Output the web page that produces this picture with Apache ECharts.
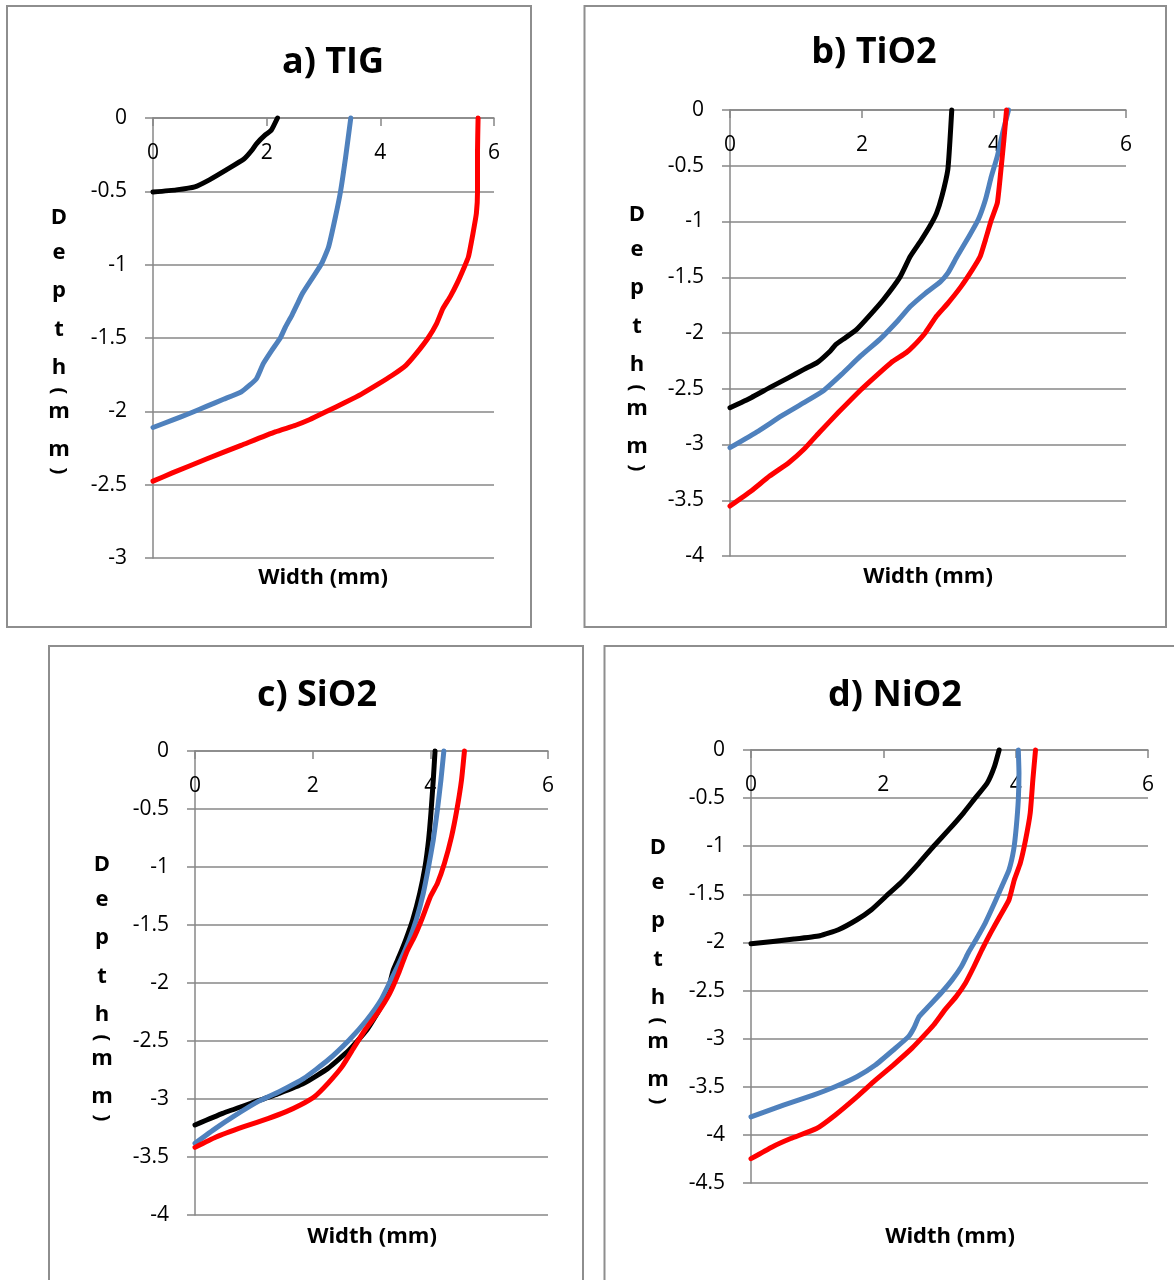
<!DOCTYPE html>
<html>
<head>
<meta charset="utf-8">
<title>Weld bead depth profiles</title>
<script src="https://cdn.jsdelivr.net/npm/echarts@6/dist/echarts.min.js"></script>
<style>
  html, body { margin: 0; padding: 0; background: #ffffff; }
  #chart { width: 1174px; height: 1280px; }
</style>
</head>
<body>
<div id="chart"></div>
<script>
// Panel titles and depth-axis lower limits
const panelTitles = ['a) TIG', 'b) TiO2', 'c) SiO2', 'd) NiO2'];
const depthMin = [-3, -4, -4, -4.5];
const widthMax = 6;
const axisTitleX = 'Width (mm)';
const depthLetters = ['D', 'e', 'p', 't', 'h', '(', 'm', 'm', ')'];

// Profiles as [width (mm), depth (mm)]
const tigBlack = [[2.19,0],[2.08,-0.084],[1.98,-0.114],[1.82,-0.176],[1.74,-0.22],[1.6,-0.28],[1.29,-0.354],[1.0,-0.42],[0.735,-0.47],[0.41,-0.49],[0,-0.505]];
const tigBlue = [[3.48,0],[3.39,-0.265],[3.3,-0.5],[3.21,-0.674],[3.09,-0.878],[2.97,-0.99],[2.63,-1.196],[2.55,-1.26],[2.45,-1.34],[2.33,-1.425],[2.24,-1.5],[2.09,-1.584],[1.94,-1.675],[1.82,-1.778],[1.7,-1.822],[1.55,-1.868],[1.24,-1.918],[0.94,-1.966],[0.64,-2.015],[0.34,-2.06],[0,-2.11]];
const tigRed = [[5.72,0],[5.71,-0.22],[5.71,-0.5],[5.69,-0.65],[5.63,-0.787],[5.55,-0.946],[5.48,-1.014],[5.35,-1.128],[5.23,-1.218],[5.1,-1.3],[4.99,-1.402],[4.84,-1.5],[4.63,-1.607],[4.45,-1.686],[4.21,-1.754],[3.96,-1.815],[3.66,-1.884],[3.36,-1.943],[3.06,-2.0],[2.76,-2.056],[2.51,-2.095],[2.15,-2.14],[1.55,-2.232],[0.94,-2.325],[0.34,-2.42],[0,-2.476]];

const tio2Black = [[3.36,0],[3.33,-0.3],[3.3,-0.536],[3.21,-0.775],[3.13,-0.925],[3.04,-1.03],[2.9,-1.165],[2.73,-1.314],[2.58,-1.494],[2.32,-1.704],[2.1,-1.853],[1.92,-1.967],[1.75,-2.042],[1.61,-2.1],[1.52,-2.161],[1.32,-2.266],[1.12,-2.326],[0.89,-2.4],[0.6,-2.49],[0.32,-2.58],[0,-2.67]];
const tio2Blue = [[4.22,0],[4.13,-0.207],[4.05,-0.416],[3.96,-0.596],[3.87,-0.805],[3.76,-0.985],[3.62,-1.135],[3.44,-1.314],[3.3,-1.464],[3.19,-1.539],[2.96,-1.644],[2.73,-1.763],[2.55,-1.885],[2.27,-2.057],[1.98,-2.206],[1.69,-2.371],[1.41,-2.52],[1.12,-2.625],[0.78,-2.744],[0.43,-2.879],[0,-3.028]];
const tio2Red = [[4.19,0],[4.15,-0.266],[4.1,-0.566],[4.05,-0.835],[3.96,-0.985],[3.87,-1.165],[3.79,-1.314],[3.67,-1.434],[3.5,-1.584],[3.3,-1.734],[3.13,-1.848],[2.96,-1.997],[2.78,-2.117],[2.67,-2.176],[2.44,-2.266],[2.21,-2.386],[1.98,-2.511],[1.64,-2.714],[1.35,-2.894],[1.12,-3.043],[0.89,-3.163],[0.6,-3.283],[0.32,-3.417],[0,-3.552]];

const sio2Black = [[4.08,0],[4.05,-0.25],[4.01,-0.537],[3.97,-0.767],[3.91,-0.997],[3.82,-1.227],[3.7,-1.457],[3.58,-1.63],[3.47,-1.77],[3.37,-1.888],[3.28,-2.06],[3.13,-2.233],[2.92,-2.405],[2.62,-2.578],[2.26,-2.736],[1.85,-2.865],[1.43,-2.951],[0.95,-3.037],[0.47,-3.124],[0,-3.224]];
const sio2Blue = [[4.23,0],[4.18,-0.25],[4.12,-0.509],[4.05,-0.767],[3.97,-0.997],[3.88,-1.227],[3.76,-1.457],[3.64,-1.63],[3.48,-1.82],[3.33,-1.974],[3.16,-2.147],[2.92,-2.319],[2.62,-2.491],[2.26,-2.664],[1.85,-2.822],[1.43,-2.937],[1.07,-3.023],[0.65,-3.152],[0.35,-3.253],[0,-3.382]];
const sio2Red = [[4.58,0],[4.53,-0.25],[4.45,-0.509],[4.36,-0.739],[4.24,-0.968],[4.12,-1.141],[4.0,-1.256],[3.85,-1.457],[3.73,-1.601],[3.6,-1.73],[3.46,-1.917],[3.31,-2.089],[3.1,-2.262],[2.89,-2.405],[2.71,-2.549],[2.5,-2.721],[2.26,-2.865],[2.03,-2.98],[1.79,-3.052],[1.55,-3.109],[1.25,-3.167],[0.83,-3.239],[0.35,-3.33],[0,-3.417]];

const nio2Black = [[3.75,0],[3.68,-0.17],[3.57,-0.343],[3.37,-0.516],[3.21,-0.655],[2.99,-0.828],[2.76,-1.0],[2.54,-1.175],[2.26,-1.383],[2.04,-1.52],[1.82,-1.66],[1.6,-1.764],[1.32,-1.868],[1.04,-1.93],[0.65,-1.965],[0,-2.014]];
const nio2Blue = [[4.04,0],[4.05,-0.24],[4.04,-0.516],[4.01,-0.794],[3.97,-1.036],[3.9,-1.244],[3.79,-1.418],[3.68,-1.591],[3.54,-1.799],[3.4,-1.972],[3.29,-2.1],[3.18,-2.25],[3.04,-2.389],[2.87,-2.528],[2.68,-2.667],[2.54,-2.771],[2.46,-2.892],[2.38,-2.979],[2.15,-3.118],[1.88,-3.274],[1.6,-3.396],[1.27,-3.5],[0.94,-3.587],[0.49,-3.691],[0,-3.813]];
const nio2Red = [[4.3,0],[4.26,-0.308],[4.22,-0.655],[4.15,-0.932],[4.07,-1.175],[3.98,-1.348],[3.9,-1.556],[3.76,-1.73],[3.62,-1.903],[3.49,-2.076],[3.37,-2.25],[3.24,-2.424],[3.1,-2.563],[2.93,-2.701],[2.76,-2.858],[2.6,-2.979],[2.43,-3.101],[2.15,-3.274],[1.88,-3.431],[1.6,-3.604],[1.27,-3.795],[0.99,-3.934],[0.6,-4.038],[0.32,-4.125],[0,-4.247]];

const profiles = [
  [tigBlack, tigBlue, tigRed],
  [tio2Black, tio2Blue, tio2Red],
  [sio2Black, sio2Blue, sio2Red],
  [nio2Black, nio2Blue, nio2Red]
];
const lineColors = ['#000000', '#4f81bd', '#ff0000'];

// Layout of the four panels
const layout = [
  { box: [7, 6, 524, 621],   grid: { left: 153, top: 118, width: 341, height: 440 }, title: [333, 62],  depthLabel: [59, 220],  widthLabel: [323, 578] },
  { box: [584.5, 6, 581.5, 621], grid: { left: 730, top: 110, width: 396, height: 446 }, title: [874, 52],  depthLabel: [637, 217], widthLabel: [928, 577] },
  { box: [49, 646, 534, 660], grid: { left: 195, top: 751, width: 353, height: 464 }, title: [317, 695], depthLabel: [102, 867], widthLabel: [372, 1237] },
  { box: [604.5, 646, 600, 660], grid: { left: 751, top: 750, width: 397, height: 433 }, title: [895, 695], depthLabel: [658, 850], widthLabel: [950, 1237] }
];

const gridColor = '#878787';
const fontFamily = '"Open Sans", "Liberation Sans", sans-serif';

const grids = [], xAxes = [], yAxes = [], series = [], graphics = [];

// Stacked vertical "Depth (mm)" label: letters one per line, parentheses turned sideways
const letterOffsets = [8.5, 44, 82, 120.5, 158.5, 171, 203, 241, 251];
function depthLabel(cx, cy) {
  depthLetters.forEach((ch, k) => {
    const isParen = ch === '(' || ch === ')';
    graphics.push({
      type: 'text',
      x: cx,
      y: cy + letterOffsets[k],
      rotation: isParen ? -Math.PI / 2 : 0,
      style: {
        text: ch,
        fill: '#000',
        font: 'bold ' + (isParen ? 20 : 22) + 'px ' + fontFamily,
        textAlign: 'center',
        textVerticalAlign: isParen ? 'middle' : 'bottom'
      },
      silent: true
    });
  });
}

layout.forEach((p, i) => {
  grids.push(Object.assign({ containLabel: false }, p.grid));

  xAxes.push({
    gridIndex: i,
    type: 'value',
    min: 0,
    max: widthMax,
    interval: 2,
    position: 'top',
    axisLine: { show: true, onZero: false, lineStyle: { color: gridColor, width: 1.5 } },
    axisTick: { show: true, inside: true, length: 8, lineStyle: { color: gridColor, width: 1.5 } },
    axisLabel: { inside: true, margin: 25, color: '#000', fontSize: 21, fontFamily: fontFamily, showMinLabel: true, showMaxLabel: true },
    splitLine: { show: false }
  });

  yAxes.push({
    gridIndex: i,
    type: 'value',
    min: depthMin[i],
    max: 0,
    interval: 0.5,
    axisLine: { show: true, onZero: false, lineStyle: { color: gridColor, width: 1.5 } },
    axisTick: { show: true, length: 8, lineStyle: { color: gridColor, width: 1.5 } },
    axisLabel: { margin: 26, color: '#000', fontSize: 21, fontFamily: fontFamily, showMinLabel: true, showMaxLabel: true },
    splitLine: { show: true, lineStyle: { color: gridColor, width: 1.5 } }
  });

  profiles[i].forEach((data, s) => {
    series.push({
      type: 'line',
      name: panelTitles[i] + ' ' + s,
      xAxisIndex: i,
      yAxisIndex: i,
      data: data,
      symbol: 'none',
      smooth: 0.15,
      clip: false,
      lineStyle: { color: lineColors[s], width: 5, cap: 'round', join: 'round' },
      z: 3 + s
    });
  });

  // Panel frame
  graphics.push({
    type: 'rect',
    shape: { x: p.box[0], y: p.box[1], width: p.box[2], height: p.box[3] },
    style: { fill: 'none', stroke: '#8e8e8e', lineWidth: 2 },
    silent: true,
    z: -1
  });
  // Panel title
  graphics.push({
    type: 'text',
    x: p.title[0],
    y: p.title[1] + 1,
    style: { text: panelTitles[i], fill: '#000', font: 'bold 36px ' + fontFamily, textAlign: 'center', textVerticalAlign: 'middle' },
    silent: true
  });
  // Horizontal axis title
  graphics.push({
    type: 'text',
    x: p.widthLabel[0],
    y: p.widthLabel[1],
    style: { text: axisTitleX, fill: '#000', font: 'bold 22px ' + fontFamily, textAlign: 'center', textVerticalAlign: 'middle' },
    silent: true
  });
  depthLabel(p.depthLabel[0], p.depthLabel[1]);
});

const chart = echarts.init(document.getElementById('chart'), null, { renderer: 'canvas' });
chart.setOption({
  animation: false,
  backgroundColor: '#ffffff',
  grid: grids,
  xAxis: xAxes,
  yAxis: yAxes,
  series: series,
  graphic: graphics
});
</script>
</body>
</html>
